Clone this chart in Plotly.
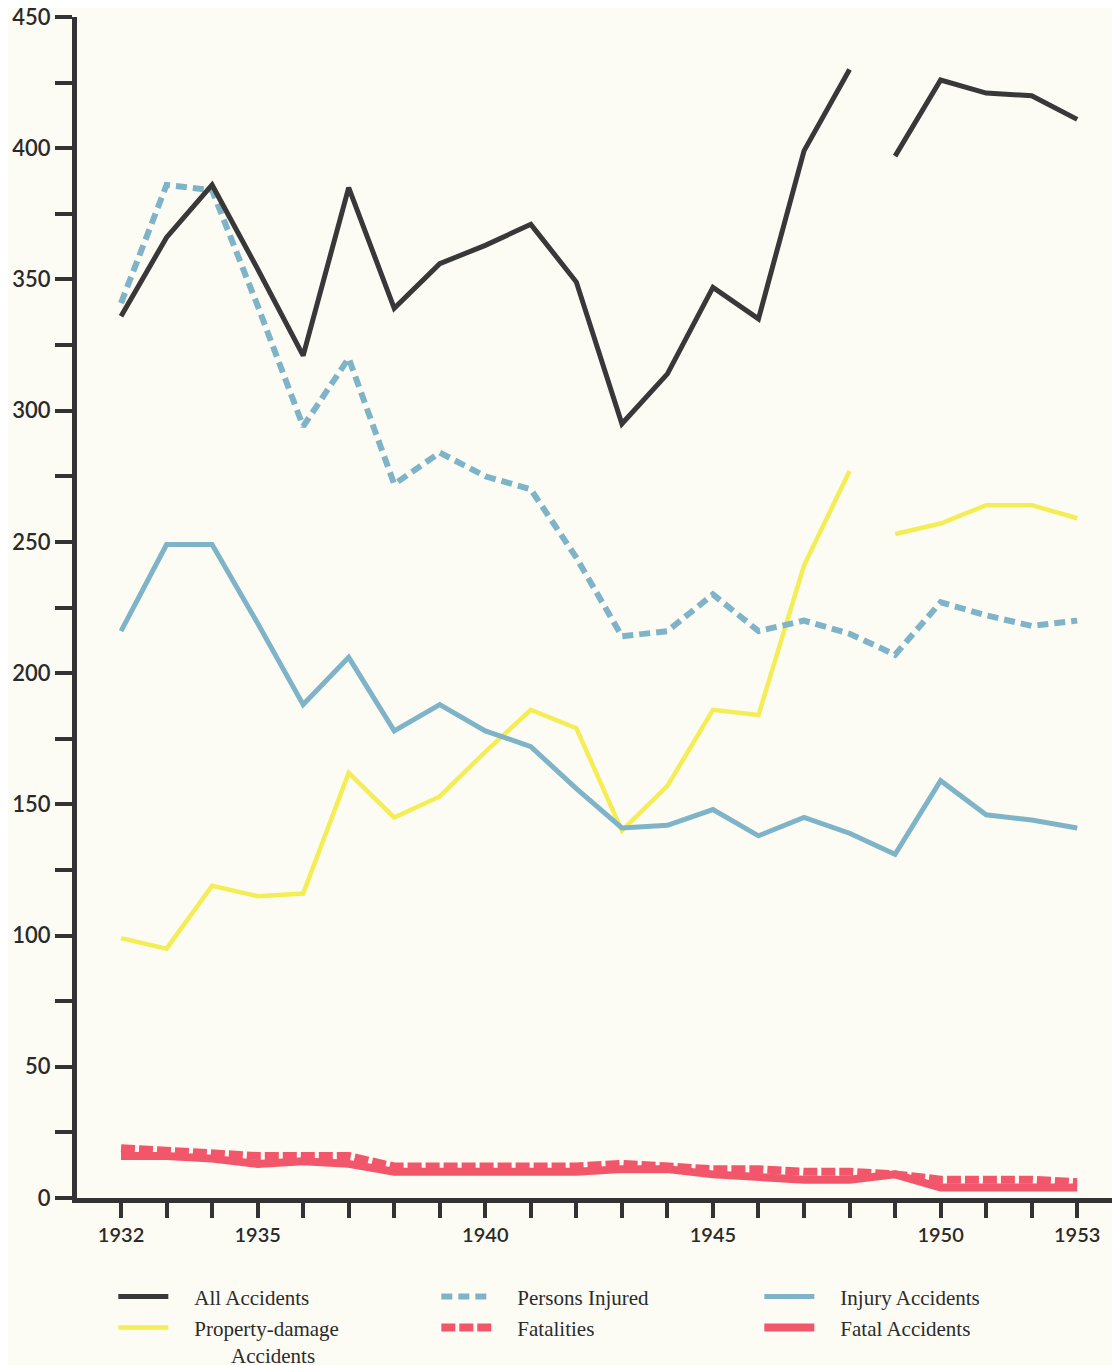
import plotly.graph_objects as go

# ---------------- data ----------------
years = list(range(1932, 1954))

all_accidents = [336, 366, 386, 354, 321, 385, 339, 356, 363, 371, 349, 295,
                 314, 347, 335, 399, 430, 397, 426, 421, 420, 411]
persons_injured = [341, 386, 384, 340, 294, 320, 272, 284, 275, 270, 244, 214,
                   216, 230, 216, 220, 215, 207, 227, 222, 218, 220]
injury_accidents = [216, 249, 249, 219, 188, 206, 178, 188, 178, 172, 156, 141,
                    142, 148, 138, 145, 139, 131, 159, 146, 144, 141]
property_damage = [99, 95, 119, 115, 116, 162, 145, 153, 170, 186, 179, 140,
                   157, 186, 184, 241, 277, 253, 257, 264, 264, 259]
fatalities = [19, 18, 17, 16, 16, 16, 12, 12, 12, 12, 12, 13,
              12, 11, 11, 10, 10, 9, 7, 7, 7, 6]
fatal_accidents = [16, 16, 15, 13, 14, 13, 10, 10, 10, 10, 10, 11,
                   11, 9, 8, 7, 7, 9, 4, 4, 4, 4]

last_year_before_break = 1948   # series drawn with a break after this year

x_tick_years = years
x_tick_labels = ["1932", "", "", "1935", "", "", "", "", "1940", "", "", "", "",
                 "1945", "", "", "", "", "1950", "", "", "1953"]
y_tick_values = [0, 50, 100, 150, 200, 250, 300, 350, 400, 450]
y_tick_labels = ["0", "50", "100", "150", "200", "250", "300", "350", "400", "450"]

# ---------------- styles ----------------
BG = "#fcfcf4"
INK = "#333333"
BLACK = "#383838"
BLUE = "#7fb4c8"
YELLOW = "#f5ec45"
RED = "#f2566a"
SP = "\u00a0" * 4  # gap between legend swatch and label

fig = go.Figure()


def add_series(name, values, color, width, dash, legend, rank, broken=False, opacity=1.0):
    if broken:
        segs = [
            [(y, v) for y, v in zip(years, values) if y <= last_year_before_break],
            [(y, v) for y, v in zip(years, values) if y > last_year_before_break],
        ]
    else:
        segs = [list(zip(years, values))]
    for i, seg in enumerate(segs):
        fig.add_trace(go.Scatter(
            x=[p[0] for p in seg], y=[p[1] for p in seg],
            mode="lines", name=name,
            line=dict(color=color, width=width, dash=dash),
            opacity=opacity,
            legend=legend, legendrank=rank, legendgroup=name,
            showlegend=(i == 0),
            hoverinfo="skip",
        ))


# drawing order: bottom to top
add_series(SP + "Property-damage<br>" + SP + "\u00a0" * 7 + "Accidents",
           property_damage, YELLOW, 4.5, "solid", "legend2", 1, broken=True, opacity=0.9)
add_series(SP + "Injury Accidents", injury_accidents, BLUE, 5, "solid", "legend", 3)
add_series(SP + "Persons Injured", persons_injured, BLUE, 6, "11px,6px", "legend", 2)
add_series(SP + "All Accidents", all_accidents, BLACK, 5, "solid", "legend", 1, broken=True)
add_series(SP + "Fatal Accidents", fatal_accidents, RED, 8, "solid", "legend2", 3)
add_series(SP + "Fatalities", fatalities, RED, 8, "14px,4px", "legend2", 2)

legend_common = dict(
    orientation="h",
    entrywidth=258,
    entrywidthmode="pixels",
    itemwidth=50,
    bgcolor="rgba(0,0,0,0)",
    font=dict(family="Liberation Serif, serif", size=21, color="#2b2b2b"),
    xanchor="left",
    valign="top",
    traceorder="normal",
)

# the page body adds an 8px offset on top/left; size the figure to fit the window
fig.update_layout(
    width=1112, height=1357,
    margin=dict(l=69, r=5, t=9, b=167, autoexpand=False),
    paper_bgcolor=BG, plot_bgcolor=BG,
    showlegend=True,
    legend=dict(x=0.035, y=-0.0838, yanchor="middle", **legend_common),
    legend2=dict(x=0.035, y=-0.0925, yanchor="top", **legend_common),
    xaxis=dict(
        range=[1931.033, 1953.83],
        tickmode="array", tickvals=x_tick_years, ticktext=x_tick_labels,
        ticks="outside", ticklen=15, tickwidth=4, tickcolor=INK,
        showline=True, linewidth=5, linecolor=INK,
        showgrid=False, zeroline=False, automargin=False,
        ticklabeloverflow="allow",
        tickfont=dict(family="Lato, sans-serif", size=20, color="#2a2a2a", weight=600),
    ),
    yaxis=dict(
        range=[0, 450],
        tickmode="array", tickvals=y_tick_values, ticktext=y_tick_labels,
        ticks="outside", ticklen=17, tickwidth=4, tickcolor=INK,
        minor=dict(ticks="outside", ticklen=17, tickwidth=4, tickcolor=INK,
                   dtick=25, tick0=0, showgrid=False),
        showline=True, linewidth=5, linecolor=INK,
        showgrid=False, zeroline=False, automargin=False,
        ticklabeloverflow="allow",
        tickfont=dict(family="Lato, sans-serif", size=22, color="#2a2a2a", weight=600),
    ),
)

fig.write_html("out.html")
